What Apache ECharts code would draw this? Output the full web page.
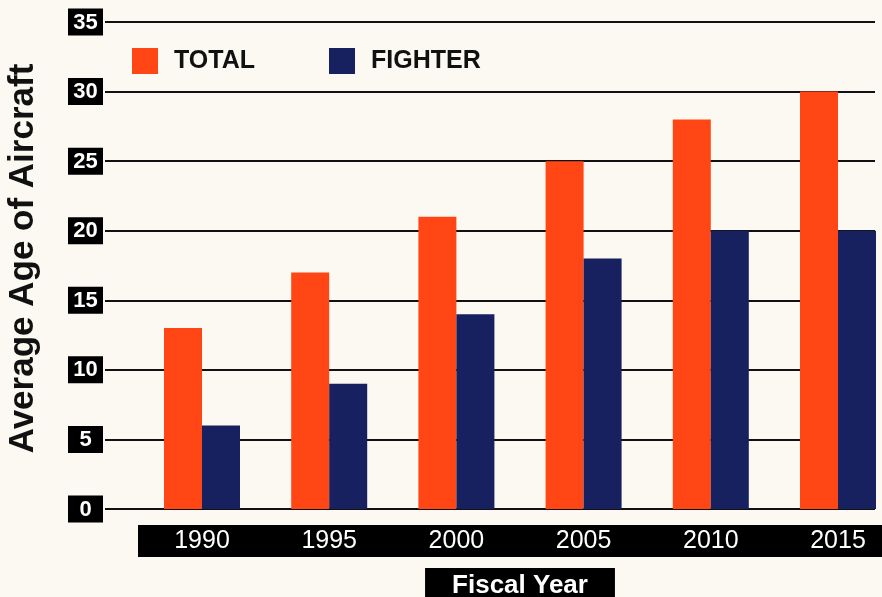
<!DOCTYPE html>
<html>
<head>
<meta charset="utf-8">
<script src="https://cdn.jsdelivr.net/npm/echarts@6/dist/echarts.min.js"></script>
<style>
html,body{margin:0;padding:0;background:#FBF9F2;}
#chart{width:882px;height:597px;}
</style>
</head>
<body>
<div id="chart"></div>
<script>
var categories = ['1990', '1995', '2000', '2005', '2010', '2015'];
var totalValues = [13, 17, 21, 25, 28, 30];
var fighterValues = [6, 9, 14, 18, 20, 20];
var yMin = 0, yMax = 35, yStep = 5;

var FONT = 'Liberation Sans, Arial, sans-serif';
var chart = echarts.init(document.getElementById('chart'), null, {renderer: 'canvas'});
chart.setOption({
  backgroundColor: '#FBF9F2',
  animation: false,
  textStyle: {fontFamily: FONT},
  legend: {
    left: 132, top: 48, padding: 0,
    itemWidth: 26, itemHeight: 26, itemGap: 74,
    icon: 'rect',
    textStyle: {fontSize: 25, fontWeight: 'bold', color: '#111', fontFamily: FONT, padding: [0, 0, 0, 11]},
    data: ['TOTAL', 'FIGHTER']
  },
  grid: [
    {left: 138.4, right: -19.6, top: 22, bottom: 88, outerBoundsMode: 'none', containLabel: false},
    {left: 105, right: 7, top: 22, bottom: 88, outerBoundsMode: 'none', containLabel: false}
  ],
  xAxis: [
    {
      type: 'category', gridIndex: 0, data: categories,
      axisLine: {show: false}, axisTick: {show: false},
      axisLabel: {
        interval: 0, margin: 16, color: '#fff', fontSize: 25, fontFamily: FONT,
        backgroundColor: '#000', width: 128, height: 32, lineHeight: 32, align: 'center'
      },
      name: 'Fiscal Year', nameLocation: 'middle', nameGap: 59,
      nameTextStyle: {
        color: '#fff', fontSize: 26, fontWeight: 'bold', fontFamily: FONT,
        backgroundColor: '#000', padding: [3, 27, 6, 27], lineHeight: 30
      }
    },
    {type: 'value', gridIndex: 1, show: false, min: 0, max: 1}
  ],
  yAxis: [
    {type: 'value', gridIndex: 0, min: yMin, max: yMax, interval: yStep, show: false},
    {
      type: 'value', gridIndex: 1, min: yMin, max: yMax, interval: yStep,
      axisLine: {show: false}, axisTick: {show: false},
      splitLine: {show: true, lineStyle: {color: '#111', width: 2}},
      axisLabel: {
        margin: 2,
        formatter: function (v) { return '{b|' + v + '}'; },
        rich: {
          b: {
            width: 25, align: 'center', color: '#fff', fontSize: 22, fontWeight: 'bold',
            fontFamily: FONT, backgroundColor: '#000', padding: [3, 5, 2, 5], lineHeight: 22
          }
        }
      },
      name: 'Average Age of Aircraft', nameLocation: 'middle', nameGap: 64,
      nameTextStyle: {fontSize: 35, fontWeight: 'bold', color: '#111', fontFamily: FONT, padding: [0, 0, 0, 14]}
    }
  ],
  series: [
    {
      name: 'TOTAL', type: 'bar', xAxisIndex: 0, yAxisIndex: 0,
      data: totalValues, barWidth: 38, barGap: '0%',
      itemStyle: {color: '#FF4614'}
    },
    {
      name: 'FIGHTER', type: 'bar', xAxisIndex: 0, yAxisIndex: 0,
      data: fighterValues, barWidth: 38, barGap: '0%',
      itemStyle: {color: '#18215F'}
    }
  ]
});
</script>
</body>
</html>
